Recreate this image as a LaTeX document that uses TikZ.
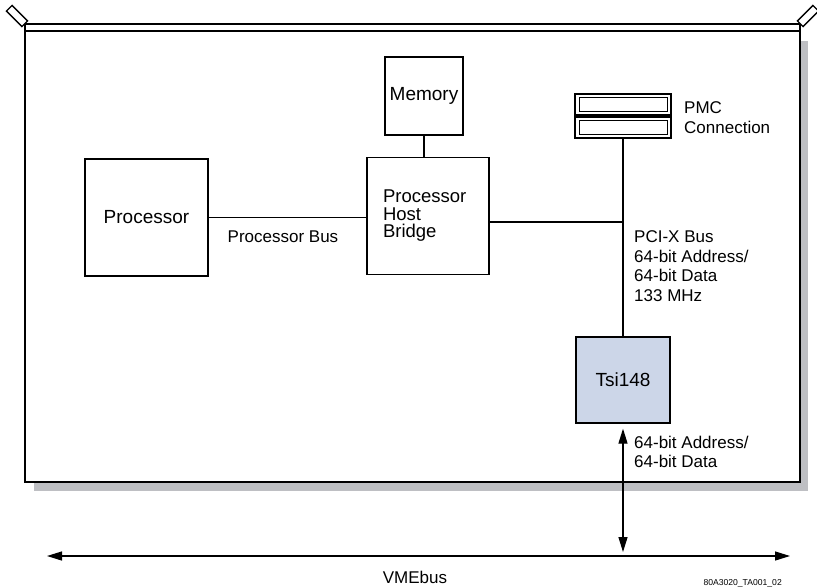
\documentclass[tikz,border=0pt]{standalone}
\usepackage{fontspec}
\setmainfont{Liberation Sans}
\usetikzlibrary{arrows.meta,positioning,calc}
\definecolor{chipblue}{RGB}{204,214,232}
\definecolor{skygge}{RGB}{190,191,195}
\tikzset{
  %Define standard arrow tip
  >={Triangle[length=15pt,width=9pt]},
  %Define style for boxes
  boks/.style={
    rectangle,
    draw=black, line width=1.3pt,
    font=\fontsize{19}{21}\selectfont,
    inner sep=0pt},
  %Define style for ejector handles
  handtak/.style={
    rectangle,
    draw=black, line width=1.3pt,
    fill=white,
    minimum width=22pt,
    minimum height=8pt,
    inner sep=0pt},
  % Define bus line style
  buss/.style={
    line width=1.3pt},
  % Define label style
  merke/.style={
    font=\fontsize{17}{19.5}\selectfont,
    align=left,
    inner sep=0pt}
}
\begin{document}
\begin{tikzpicture}[x=1pt,y=-1pt]
    \useasboundingbox (0,0) rectangle (817,587);
    % board shadow and outline
    \fill[skygge] (800,41) rectangle (808,491);
    \fill[skygge] (34,482) rectangle (808,491);
    \draw[line width=1.6pt] (25,24) rectangle (800,482);
    \draw[line width=1.6pt] (25,31) -- (800,31);
    \node[handtak, rotate=-45] (ejL) at (17,16) {};
    \node[handtak, rotate=45] (ejR) at (808,16) {};
    % blocks
    \node[boks, minimum width=123pt, minimum height=117pt] (proc) at (146.5,217.5) {Processor};
    \node[boks, minimum width=122pt, minimum height=117pt, text width=90pt, align=left,
      font=\fontsize{18.5}{17.5}\selectfont] (bridge) at (428,216) {Processor\\Host\\Bridge};
    \node[boks, minimum size=78pt] (mem) at (424,96) {Memory};
    \node[boks, fill=chipblue, minimum width=94pt, minimum height=86pt] (tsi) at (623,380) {Tsi148};
    \node[boks, minimum width=96pt, minimum height=21pt] (pmcA) at (623,104.5) {};
    \node[boks, minimum width=96pt, minimum height=21pt] (pmcB) at (623,127.5) {};
    \draw[line width=1pt] ($(pmcA.north west)+(5,4)$) rectangle ($(pmcA.south east)+(-4,-4)$);
    \draw[line width=1pt] ($(pmcB.north west)+(5,4)$) rectangle ($(pmcB.south east)+(-4,-4)$);
    % connections
    \coordinate (pci) at (623,222);
    \coordinate (vmeL) at (47,556);
    \coordinate (vmeR) at (790,556);
    \draw[buss] (mem) -- (mem |- bridge.north);
    \draw[buss] (proc) -- (proc -| bridge.west);
    \draw[buss] (bridge.east |- pci) -- (pci);
    \draw[buss] (pmcB) -- (tsi);
    \draw[buss,<->] (vmeL) -- (vmeR);
    \draw[buss,<->,shorten <=5pt,shorten >=4pt] (tsi.south) -- (tsi.south |- vmeL);
    % labels
    \node[merke] (buslbl) at (283,237) {Processor Bus};
    \node[merke, anchor=west] (pmclbl) at (684,117.5) {PMC\\Connection};
    \node[merke, anchor=west] (pcilbl) at (634,266) {PCI-X Bus\\64-bit Address/\\64-bit Data\\133 MHz};
    \node[merke, anchor=west] (vmelbl) at (634,452) {64-bit Address/\\64-bit Data};
    \node[merke] (vmename) at (415,577) {VMEbus};
    \node[font=\fontsize{8.6}{10}\selectfont, anchor=east, inner sep=0pt] (figid) at (782,583) {80A3020\_TA001\_02};
\end{tikzpicture}
\end{document}
